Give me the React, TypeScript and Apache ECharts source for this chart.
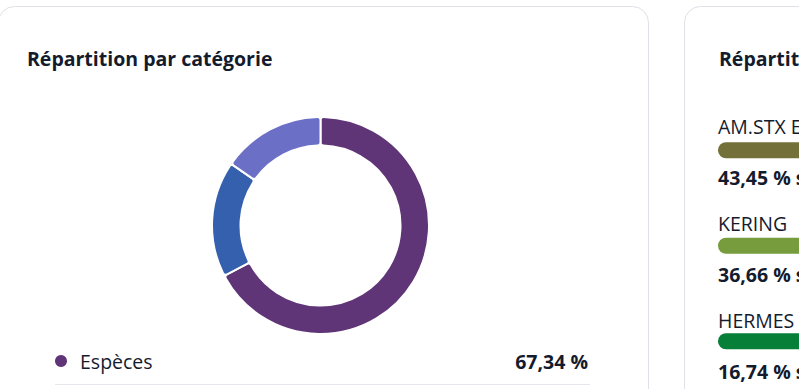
import React, { useEffect, useRef } from "react";
import * as echarts from "echarts";

const categoryNames = ["Espèces", "Actions", "Obligations"];
const categoryValues = [67.34, 17.28, 15.38];
const categoryColors = ["#5f3578", "#3560ae", "#6b70c6"];

const lineNames = ["AM.STX EUROPE 600 UCITS ETF", "KERING", "HERMES INTERNATIONAL"];
const lineValues = [43.45, 36.66, 16.74];
const lineColors = ["#737139", "#769c3e", "#067f38"];

const leftTitle = "Répartition par catégorie";
const rightTitle = "Répartition par ligne";

const FONT = "'Open Sans', 'Noto Sans', sans-serif";
const TEXT = "#141b2d";
const FS = 19.5;

const fmt = (v: number) => v.toFixed(2).replace(".", ",") + " %";

export default function App() {
  const ref = useRef<HTMLDivElement>(null);

  useEffect(() => {
    document.body.style.margin = "0";
    const chart = echarts.init(ref.current!, undefined, { renderer: "svg" });

    const barTop = 102.5;
    const barBand = 97;
    const lineGraphics: any[] = [];
    lineNames.forEach((n, i) => {
      const cy = barTop + barBand * (i + 0.5);
      lineGraphics.push({
        type: "text",
        x: 718,
        y: cy - 25,
        style: { text: n, font: `400 ${FS}px ${FONT}`, fill: TEXT, verticalAlign: "middle" },
      });
      lineGraphics.push({
        type: "text",
        x: 718,
        y: cy + 26,
        style: { text: fmt(lineValues[i]) + " sur le total", font: `700 ${FS}px ${FONT}`, fill: TEXT, verticalAlign: "middle" },
      });
    });

    chart.setOption({
      animation: false,
      graphic: [
        {
          type: "rect",
          z: 0,
          shape: { x: -1.5, y: 6.5, width: 650, height: 420, r: 16 },
          style: { fill: "#ffffff", stroke: "#dfe0e8", lineWidth: 1 },
        },
        {
          type: "rect",
          z: 0,
          shape: { x: 684.5, y: 6.5, width: 650, height: 420, r: 16 },
          style: { fill: "#ffffff", stroke: "#dfe0e8", lineWidth: 1 },
        },
        {
          type: "text",
          x: 27,
          y: 58,
          style: { text: leftTitle, font: `700 ${FS}px ${FONT}`, fill: TEXT, verticalAlign: "middle" },
        },
        {
          type: "text",
          x: 719,
          y: 58,
          style: { text: rightTitle, font: `700 ${FS}px ${FONT}`, fill: TEXT, verticalAlign: "middle" },
        },
        {
          type: "circle",
          shape: { cx: 61, cy: 361, r: 6 },
          style: { fill: categoryColors[0] },
        },
        {
          type: "text",
          x: 80,
          y: 361,
          style: { text: categoryNames[0], font: `400 ${FS}px ${FONT}`, fill: TEXT, verticalAlign: "middle" },
        },
        {
          type: "text",
          x: 588,
          y: 361,
          style: { text: fmt(categoryValues[0]), font: `700 ${FS}px ${FONT}`, fill: TEXT, verticalAlign: "middle", align: "right" },
        },
        {
          type: "line",
          shape: { x1: 55, y1: 384.5, x2: 590, y2: 384.5 },
          style: { stroke: "#e6e6ec", lineWidth: 1 },
        },
        ...lineGraphics,
      ],
      grid: { left: 718, top: barTop, width: 580, height: barBand * 3 },
      xAxis: { type: "value", min: 0, max: 100, show: false },
      yAxis: { type: "category", data: lineNames, inverse: true, show: false },
      series: [
        {
          type: "pie",
          center: [320.5, 225.5],
          radius: [80, 108.5],
          startAngle: 90,
          clockwise: true,
          label: { show: false },
          labelLine: { show: false },
          emphasis: { disabled: true },
          itemStyle: { borderColor: "#ffffff", borderWidth: 2, borderRadius: 3 },
          data: categoryNames.map((n, i) => ({
            name: n,
            value: categoryValues[i],
            itemStyle: { color: categoryColors[i] },
          })),
        },
        {
          type: "bar",
          barWidth: 16,
          data: lineValues.map((v, i) => ({
            value: v,
            itemStyle: { color: lineColors[i], borderRadius: 8 },
          })),
        },
      ],
    });
    return () => chart.dispose();
  }, []);

  return (
    <div style={{ width: 799, height: 389, overflow: "hidden", position: "relative" }}>
      <div ref={ref} style={{ width: 1400, height: 389 }} />
    </div>
  );
}
